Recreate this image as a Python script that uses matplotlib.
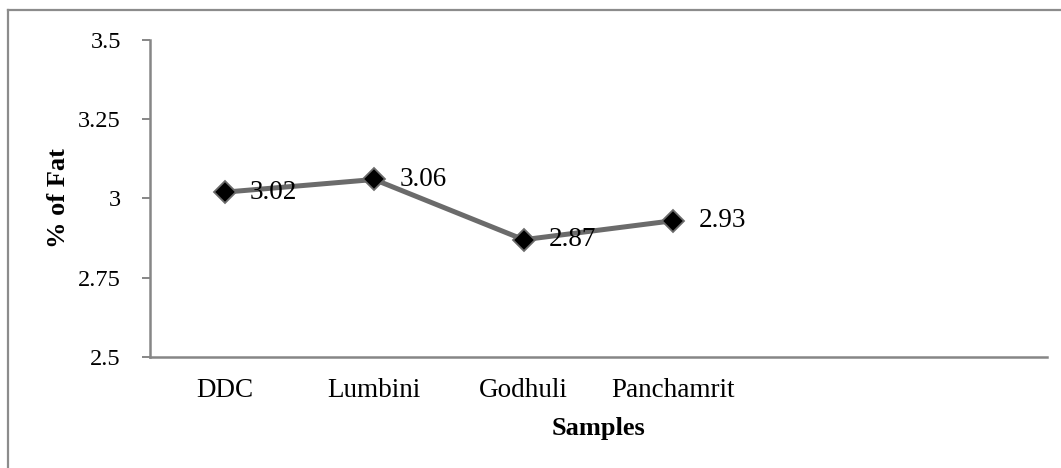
import matplotlib
matplotlib.use("Agg")
import matplotlib.pyplot as plt
from matplotlib.lines import Line2D

plt.rcParams['font.family'] = ['Liberation Serif', 'DejaVu Serif']

# chart data
samples = ['DDC', 'Lumbini', 'Godhuli', 'Panchamrit', '', '']
fat = [3.02, 3.06, 2.87, 2.93]
yticks = [2.5, 2.75, 3, 3.25, 3.5]
ytick_labels = ['2.5', '2.75', '3', '3.25', '3.5']

W, H = 1061, 468
fig = plt.figure(figsize=(W / 100, H / 100), dpi=100)

# outer frame (only top and left visible in the reference)
fig.add_artist(Line2D([8 / W, 8 / W], [0, 1 - 10 / H], color='#8c8c8c', lw=1.6))
fig.add_artist(Line2D([8 / W, 1], [1 - 10 / H, 1 - 10 / H], color='#8c8c8c', lw=1.6))

ax = fig.add_axes([150 / W, 111 / H, 897 / W, 317 / H])

x = list(range(len(fat)))
ax.plot(x, fat, color='#6b6b6b', lw=3.6, marker='D', markersize=11,
        markerfacecolor='black', markeredgecolor='#6b6b6b', markeredgewidth=1.3,
        zorder=3)
for xi, v in zip(x, fat):
    ax.annotate(f'{v:.2f}', (xi, v), xytext=(18, 0), textcoords='offset points',
                ha='left', va='center', fontsize=19.5)

ax.set_xlim(-0.5, len(samples) - 0.5)
ax.set_ylim(2.5, 3.5)
ax.set_xticks(range(len(samples)))
ax.set_xticklabels(samples, fontsize=19.5)
ax.set_yticks(yticks)
ax.set_yticklabels(ytick_labels, fontsize=17.5)
ax.tick_params(axis='x', length=0, pad=15)
ax.tick_params(axis='y', length=6, width=1.4, color='#868686', pad=15)

for s in ['top', 'right']:
    ax.spines[s].set_visible(False)
for s in ['left', 'bottom']:
    ax.spines[s].set_color('#868686')
    ax.spines[s].set_linewidth(1.8)

ax.set_xlabel('Samples', fontsize=19, fontweight='bold', labelpad=10)
ax.set_ylabel('% of Fat', fontsize=19, fontweight='bold', labelpad=6)

fig.savefig('out.png', dpi=100)
